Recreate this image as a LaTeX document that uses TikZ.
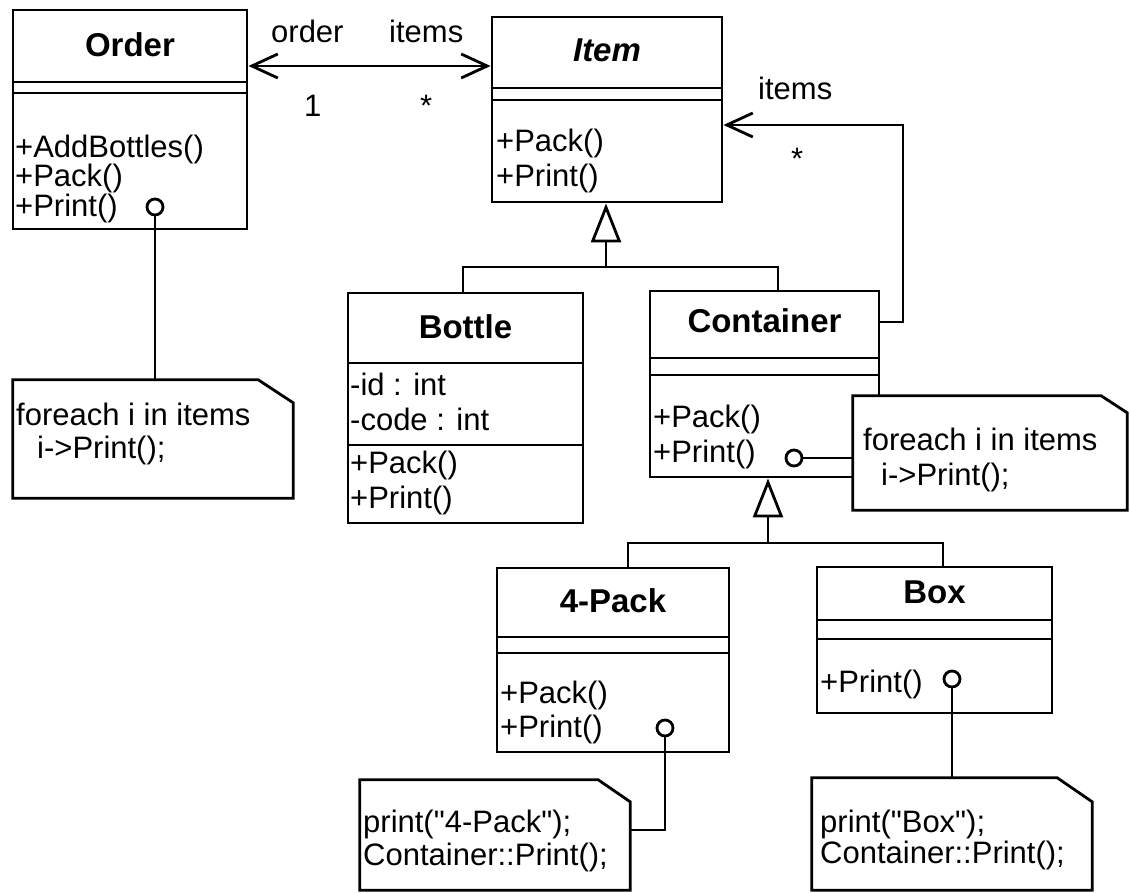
\documentclass[tikz,border=0pt]{standalone}
\usepackage{fontspec}
\setmainfont{Liberation Sans}
\usetikzlibrary{arrows.meta}

\tikzset{
  umlclass/.style={draw, line width=2.9pt, fill=white, inner sep=0pt},
  classname/.style={anchor=base, inner sep=0pt, font=\fontsize{33}{33}\selectfont\bfseries},
  member/.style={anchor=base west, inner sep=0pt, font=\fontsize{31}{31}\selectfont},
  opnote/.style={draw=none, fill=white, inner sep=0pt},
  pin/.style={circle, draw, line width=2.8pt, fill=white, minimum size=16pt, inner sep=0pt},
  link/.style={line width=2.8pt},
  barb/.tip={Straight Barb[length=26pt,width=24pt]},
  assoc/.style={link, -barb},
  gen/.style={link, -{Triangle[open,length=39pt,width=30pt,fill=white]}},
}

% compartment line across a class box
\newcommand{\compline}[2]{\draw[line width=2.8pt] (#1.west |- 0,#2) -- (#1.east |- 0,#2);}
% note outline with the cut corner
\newcommand{\noteline}[3]{\draw[line width=2.8pt] (#1.south west) -- (#1.north west)
  -- ([xshift=-#2pt]#1.north east) -- ([yshift=-#3pt]#1.north east) -- (#1.south east) -- cycle;}

\begin{document}
\begin{tikzpicture}[x=1pt,y=-1pt]
\useasboundingbox (0,0) rectangle (1130,893);

% classes
\node[umlclass, minimum width=234pt, minimum height=219pt] (order) at (130,119.5) {};
\compline{order}{82}
\compline{order}{93}
\node[classname] (ordername) at (130,57) {Order};
\node[member] (orderm1) at (15,158) {+AddBottles()};
\node[member] (orderm2) at (15,187) {+Pack()};
\node[member] (orderm3) at (15,217) {+Print()};

\node[umlclass, minimum width=230pt, minimum height=185pt] (item) at (607,109.5) {};
\compline{item}{88}
\compline{item}{100}
\node[classname, font=\fontsize{33}{33}\selectfont\bfseries\itshape] (itemname) at (607,62) {Item};
\node[member] (itemm1) at (496,152) {+Pack()};
\node[member] (itemm2) at (496,187) {+Print()};

\node[umlclass, minimum width=235pt, minimum height=230pt] (bottle) at (465.5,408) {};
\compline{bottle}{363}
\compline{bottle}{445}
\node[classname] (bottlename) at (465.5,338) {Bottle};
\node[member] (bottlea1) at (350,395) {-id : int};
\node[member] (bottlea2) at (350,430) {-code : int};
\node[member] (bottlem1) at (350,473) {+Pack()};
\node[member] (bottlem2) at (350,508) {+Print()};

\node[umlclass, minimum width=229pt, minimum height=186pt] (container) at (764.5,384) {};
\compline{container}{358}
\compline{container}{375}
\node[classname] (containername) at (764.5,333) {Container};
\node[member] (containerm1) at (653,427) {+Pack()};
\node[member] (containerm2) at (653,462) {+Print()};

\node[umlclass, minimum width=232pt, minimum height=184pt] (pack) at (613,660) {};
\compline{pack}{637}
\compline{pack}{653}
\node[classname] (packname) at (613,612) {4-Pack};
\node[member] (packm1) at (500,703) {+Pack()};
\node[member] (packm2) at (500,737) {+Print()};

\node[umlclass, minimum width=235pt, minimum height=146pt] (box) at (934.5,640) {};
\compline{box}{620}
\compline{box}{639}
\node[classname] (boxname) at (934.5,603) {Box};
\node[member] (boxm1) at (820,692) {+Print()};

% notes
\node[opnote, minimum width=280pt, minimum height=118pt] (ordernote) at (153,439) {};
\noteline{ordernote}{35}{23}
\node[member] (ordernote1) at (16,425) {foreach i in items};
\node[member] (ordernote2) at (37,458) {i->Print();};

\node[opnote, minimum width=274pt, minimum height=114pt] (contnote) at (990,453) {};
\noteline{contnote}{26}{17}
\node[member] (contnote1) at (863,450) {foreach i in items};
\node[member] (contnote2) at (881,485) {i->Print();};

\node[opnote, minimum width=270pt, minimum height=110pt] (packnote) at (495,835) {};
\noteline{packnote}{32}{22}
\node[member] (packnote1) at (363,832) {print(\textquotedbl 4-Pack\textquotedbl);};
\node[member] (packnote2) at (363,865) {Container::Print();};

\node[opnote, minimum width=280pt, minimum height=112pt] (boxnote) at (952,834) {};
\noteline{boxnote}{35}{24}
\node[member] (boxnote1) at (820,832) {print(\textquotedbl Box\textquotedbl);};
\node[member] (boxnote2) at (820,863) {Container::Print();};

% pins to notes
\node[pin] (orderpin) at (155,207) {};
\node[pin] (contpin) at (794,458) {};
\node[pin] (packpin) at (665,728) {};
\node[pin] (boxpin) at (952,679) {};
\draw[link] (orderpin) -- (orderpin |- ordernote.north);
\draw[link] (contpin) -- (contpin -| contnote.west);
\draw[link] (packpin) |- (packnote.east |- 0,830);
\draw[link] (boxpin) -- (boxpin |- boxnote.north);

% associations
\draw[link, barb-barb] (order.east |- 0,66) -- (item.west |- 0,66);
\node[member] (lblorder) at (271,43) {order};
\node[member] (lblitems) at (389,43) {items};
\node[member] (lblone) at (304,117) {1};
\node[member] (lblmany) at (420,117) {*};

\coordinate (itembend) at (903,125);
\draw[assoc] (container.east |- 0,322) -| (itembend) -- (item.east |- itembend);
\node[member] (lblitems2) at (758,100) {items};
\node[member] (lblmany2) at (791,170) {*};

% inheritance
\coordinate (itemfork) at (606,267);
\draw[gen] (itemfork) -- (itemfork |- item.south);
\draw[link] (bottle.north -| 463,0) |- (itemfork) -| (container.north -| 778,0);

\coordinate (contfork) at (768,543);
\draw[gen] (contfork) -- (contfork |- container.south);
\draw[link] (pack.north -| 628,0) |- (contfork) -| (box.north -| 943,0);
\end{tikzpicture}
\end{document}
